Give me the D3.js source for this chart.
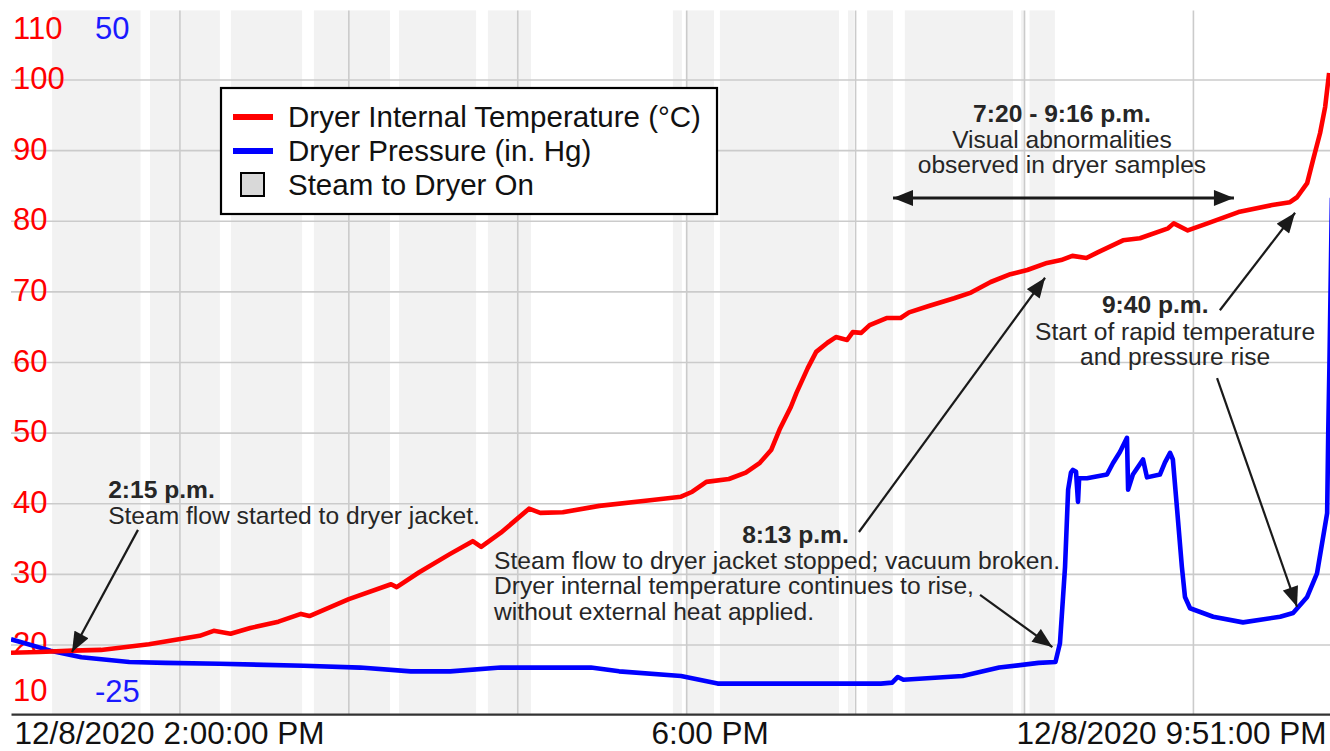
<!DOCTYPE html>
<html>
<head>
<meta charset="utf-8">
<script src="https://cdn.jsdelivr.net/npm/d3@7"></script>
<style>
  body { margin: 0; background: #fff; }
  svg { display: block; font-family: Arial, "Liberation Sans", sans-serif; }
</style>
</head>
<body>
<div id="chart"></div>
<script>
// dryer temperature (degC)
const tempTimes = ["14:00","14:10","14:22","14:32","14:49","15:07","15:12","15:18","15:25","15:35",
  "15:43","15:46","16:00","16:15","16:17","16:25","16:36","16:44","16:47","16:54",
  "17:04","17:08","17:16","17:29","17:47","17:58","18:02","18:07","18:15","18:21",
  "18:26","18:30","18:33","18:37","18:39","18:43","18:46","18:50","18:53","18:57",
  "18:59","19:02","19:05","19:11","19:16","19:19","19:26","19:35","19:41","19:48",
  "19:55","20:01","20:08","20:13","20:17","20:22","20:26","20:35","20:41","20:51",
  "20:53","20:58","21:05","21:16","21:28","21:34:18","21:36:48","21:40:24","21:42:30","21:45:00",
  "21:46:48","21:48:12"];
const tempValues = [18.9,19.0,19.2,19.3,20.1,21.3,22.0,21.6,22.4,23.3,
  24.4,24.1,26.5,28.6,28.2,30.3,32.9,34.7,33.9,35.9,
  39.3,38.7,38.8,39.7,40.5,41.0,41.7,43.1,43.5,44.4,
  45.8,47.6,50.5,53.7,55.7,59.2,61.5,62.8,63.6,63.2,
  64.3,64.2,65.3,66.3,66.3,67.1,68.0,69.1,69.9,71.4,
  72.5,73.1,74.1,74.5,75.1,74.8,75.6,77.3,77.6,79.0,
  79.7,78.7,79.7,81.3,82.3,82.7,83.4,85.4,88.7,92.5,
  96.2,101.0];

// dryer pressure (in. Hg)
const pressTimes = ["14:00","14:14","14:25","14:42","14:55","15:14","15:44","16:04","16:22","16:36",
  "16:54","17:26","17:36","17:58","18:11","19:09","19:13","19:15","19:17","19:38",
  "19:51","20:05","20:11","20:12:36","20:14:24","20:15:30","20:16:30","20:17:12","20:18:18","20:19:00",
  "20:19:24","20:22:12","20:29:18","20:31:24","20:33:54","20:36:24","20:36:48","20:38:30","20:42:06","20:43:30",
  "20:48:06","20:49:54","20:51:42","20:52:42","20:54:12","20:55:54","20:57:00","20:58:48","21:07:00","21:17:36",
  "21:30:48","21:35:24","21:40:24","21:43:54","21:47:30","21:47:54","21:48:18","21:49:12"];
const pressValues = [-16.9,-18.1,-18.8,-19.3,-19.4,-19.5,-19.7,-19.9,-20.3,-20.3,
  -19.9,-19.9,-20.3,-20.8,-21.6,-21.6,-21.5,-20.9,-21.2,-20.8,
  -19.9,-19.4,-19.3,-17.3,-9.2,-1.0,0.8,1.1,0.9,-2.3,
  0.2,0.2,0.6,1.8,3.0,4.5,-1.0,0.6,2.2,0.3,
  0.6,1.9,2.9,2.2,-3.1,-9.2,-12.4,-13.6,-14.5,-15.1,
  -14.5,-14.1,-12.4,-9.9,-3.5,5.3,12.0,30.0];

// steam to dryer on
const steamStart = ["14:14:36","14:49:24","15:18:06","15:47:36","16:17:48","16:49:24","17:55:06","18:00:06","18:11:48","18:57:18","19:04:06","19:17:30","19:58:48","20:01:48"];
const steamEnd   = ["14:46:00","15:14:12","15:43:24","16:14:36","16:45:12","17:04:42","17:58:18","18:09:42","18:54:06","18:59:24","19:13:18","19:55:54","19:59:48","20:10:48"];

const timeDomain = ["14:00", "21:51"];
const tempDomain = [10, 110];
const pressDomain = [-25, 50];
const tempGrid = [20, 30, 40, 50, 60, 70, 80, 90, 100];
const xTickTimes = ["14:00", "18:00", "21:51"];
const xTickLabels = ["12/8/2020 2:00:00 PM", "6:00 PM", "12/8/2020 9:51:00 PM"];

const legendItems = ["Dryer Internal Temperature (\u00B0C)", "Dryer Pressure (in. Hg)", "Steam to Dryer On"];

// annotation anchors in (time, temperature) units
const notes = [
  { t: "14:34:30", v: 40.8, anchor: "start", lines: [["2:15 p.m.", 1], ["Steam flow started to dryer jacket.", 0]] },
  { t: "18:19:42", v: 34.4, anchor: "start", lines: [["8:13 p.m.", 1]] },
  { t: "16:51:36", v: 30.8, anchor: "start", lines: [["Steam flow to dryer jacket stopped; vacuum broken.", 0], ["Dryer internal temperature continues to rise,", 0], ["without external heat applied.", 0]] },
  { t: "20:13:18", v: 94.05, anchor: "middle", lines: [["7:20 - 9:16 p.m.", 1], ["Visual abnormalities", 0], ["observed in dryer samples", 0]] },
  { t: "20:27:30", v: 67.0, anchor: "start", lines: [["9:40 p.m.", 1]] },
  { t: "20:53:30", v: 63.2, anchor: "middle", lines: [["Start of rapid temperature", 0], ["and pressure rise", 0]] }
];
const arrows = [
  { from: ["14:45:06", 36.3], to: ["14:21:40", 19.0] },
  { from: ["19:01:12", 36.0], to: ["20:07:18", 72.0] },
  { from: ["19:44:12", 27.1], to: ["20:09:54", 19.7] },
  { from: ["21:09:24", 67.4], to: ["21:36:06", 81.2] },
  { from: ["21:08:24", 57.8], to: ["21:36:48", 25.4] }
];
const span = { from: ["19:13:18", 83.3], to: ["21:14:24", 83.3] };

const width = 1330, height = 751;
const plot = { left: 11, right: 1337, top: 9.4, bottom: 715.6 };

const parseT = d3.timeParse("%H:%M:%S");
const toDate = (s) => parseT(s.length === 5 ? s + ":00" : s);

const x = d3.scaleTime().domain(timeDomain.map(toDate)).range([plot.left, plot.right]);
const yT = d3.scaleLinear().domain(tempDomain).range([plot.bottom, plot.top]);
const yP = d3.scaleLinear().domain(pressDomain).range([plot.bottom, plot.top]);

const svg = d3.select("#chart").append("svg")
  .attr("width", width)
  .attr("height", height);

const defs = svg.append("defs");
defs.append("marker")
  .attr("id", "head")
  .attr("markerUnits", "userSpaceOnUse")
  .attr("viewBox", "0 0 20 16")
  .attr("refX", 20).attr("refY", 8)
  .attr("markerWidth", 21).attr("markerHeight", 16)
  .attr("orient", "auto-start-reverse")
  .append("path")
  .attr("d", "M0,0 L20,8 L0,16 Z")
  .attr("fill", "#1a1a1a");

const axisY = plot.bottom - 1.5;

// steam bands
svg.append("g").attr("class", "steam")
  .selectAll("rect")
  .data(steamStart.map((s, i) => [toDate(s), toDate(steamEnd[i])]))
  .join("rect")
  .attr("x", (d) => x(d[0]))
  .attr("width", (d) => x(d[1]) - x(d[0]))
  .attr("y", plot.top + 1)
  .attr("height", axisY - plot.top - 1)
  .attr("fill", "#f2f2f2");

// grid
const grid = svg.append("g").attr("class", "grid")
  .attr("stroke", "#cbcbcb")
  .attr("stroke-width", 1.6);
grid.selectAll("line.h")
  .data(tempGrid)
  .join("line")
  .attr("class", "h")
  .attr("x1", plot.left).attr("x2", width)
  .attr("y1", (d) => yT(d)).attr("y2", (d) => yT(d));
grid.selectAll("line.v")
  .data(d3.timeHour.range(d3.timeHour.ceil(x.domain()[0]), x.domain()[1]).slice(1))
  .join("line")
  .attr("class", "v")
  .attr("x1", (d) => x(d)).attr("x2", (d) => x(d))
  .attr("y1", plot.top + 1).attr("y2", axisY);

// y labels: temperature (red) and pressure (blue), ends drawn inside the plot
const yLab = svg.append("g").attr("font-size", 31);
yLab.selectAll("text.t")
  .data(tempGrid)
  .join("text")
  .attr("class", "t")
  .attr("x", 13)
  .attr("y", (d) => yT(d) + 9)
  .attr("fill", "#ff0000")
  .text((d) => d);
yLab.append("text").attr("x", 13).attr("y", yT(tempDomain[1]) + 30)
  .attr("fill", "#ff0000").text(tempDomain[1]);
yLab.append("text").attr("x", 13).attr("y", yT(tempDomain[0]) - 15)
  .attr("fill", "#ff0000").text(tempDomain[0]);
yLab.append("text").attr("x", 95).attr("y", yP(pressDomain[1]) + 30)
  .attr("fill", "#1a1aff").text(pressDomain[1]);
yLab.append("text").attr("x", 95).attr("y", yP(pressDomain[0]) - 14)
  .attr("fill", "#1a1aff").text(pressDomain[0]);

// bottom axis
const xAxis = svg.append("g")
  .attr("transform", `translate(0,${axisY})`)
  .call(d3.axisBottom(x)
    .tickValues(xTickTimes.map(toDate))
    .tickSize(0)
    .tickFormat((d, i) => xTickLabels[i]));
xAxis.select(".domain").attr("stroke", "#333").attr("stroke-width", 2.2);
xAxis.selectAll("text")
  .attr("font-family", "Arial, 'Liberation Sans', sans-serif")
  .attr("font-size", 31.5)
  .attr("fill", "#111")
  .attr("y", 29.5).attr("dy", 0)
  .attr("text-anchor", (d, i) => ["start", "middle", "end"][i])
  .attr("dx", (d, i) => [3, 23, -11][i]);

// series
defs.append("clipPath").attr("id", "plotClip")
  .append("rect")
  .attr("x", plot.left).attr("y", 0)
  .attr("width", width - plot.left).attr("height", axisY);

const lines = svg.append("g").attr("clip-path", "url(#plotClip)")
  .attr("fill", "none")
  .attr("stroke-width", 4.6)
  .attr("stroke-linejoin", "round");

lines.append("path")
  .datum(pressTimes.map((t, i) => [toDate(t), pressValues[i]]))
  .attr("stroke", "#0000ff")
  .attr("d", d3.line().x((d) => x(d[0])).y((d) => yP(d[1])));

lines.append("path")
  .datum(tempTimes.map((t, i) => [toDate(t), tempValues[i]]))
  .attr("stroke", "#ff0000")
  .attr("d", d3.line().x((d) => x(d[0])).y((d) => yT(d[1])));

// annotations
const ann = svg.append("g").attr("fill", "#262626").attr("font-size", 24.6);
notes.forEach((n) => {
  const txt = ann.append("text")
    .attr("text-anchor", n.anchor)
    .attr("x", x(toDate(n.t)))
    .attr("y", yT(n.v));
  n.lines.forEach(([s, bold], i) => {
    txt.append("tspan")
      .attr("x", x(toDate(n.t)))
      .attr("dy", i === 0 ? 0 : 25.5)
      .attr("font-weight", bold ? "bold" : "normal")
      .text(s);
  });
});

const arrowG = svg.append("g").attr("stroke", "#1a1a1a").attr("stroke-width", 2.2);
arrowG.selectAll("line")
  .data(arrows)
  .join("line")
  .attr("x1", (d) => x(toDate(d.from[0]))).attr("y1", (d) => yT(d.from[1]))
  .attr("x2", (d) => x(toDate(d.to[0]))).attr("y2", (d) => yT(d.to[1]))
  .attr("marker-end", "url(#head)");
arrowG.append("line")
  .attr("x1", x(toDate(span.from[0]))).attr("y1", yT(span.from[1]))
  .attr("x2", x(toDate(span.to[0]))).attr("y2", yT(span.to[1]))
  .attr("stroke-width", 3)
  .attr("marker-start", "url(#head)")
  .attr("marker-end", "url(#head)");

// legend
const legend = svg.append("g").attr("transform", "translate(221,88)");
legend.append("rect")
  .attr("width", 496).attr("height", 126)
  .attr("fill", "#fff").attr("stroke", "#000").attr("stroke-width", 2.2);
const rows = legend.selectAll("g.row")
  .data(legendItems)
  .join("g")
  .attr("class", "row")
  .attr("transform", (d, i) => `translate(0,${29 + i * 34})`);
rows.filter((d, i) => i < 2).append("line")
  .attr("x1", 12).attr("x2", 52)
  .attr("stroke", (d, i) => ["#ff0000", "#0000ff"][i])
  .attr("stroke-width", 6);
rows.filter((d, i) => i === 2).append("rect")
  .attr("x", 20).attr("y", -12).attr("width", 23).attr("height", 23)
  .attr("fill", "#d9d9d9").attr("stroke", "#000").attr("stroke-width", 2);
rows.append("text")
  .attr("x", 67).attr("y", 10)
  .attr("font-size", 29.5)
  .attr("fill", "#111")
  .text((d) => d);
</script>
</body>
</html>
